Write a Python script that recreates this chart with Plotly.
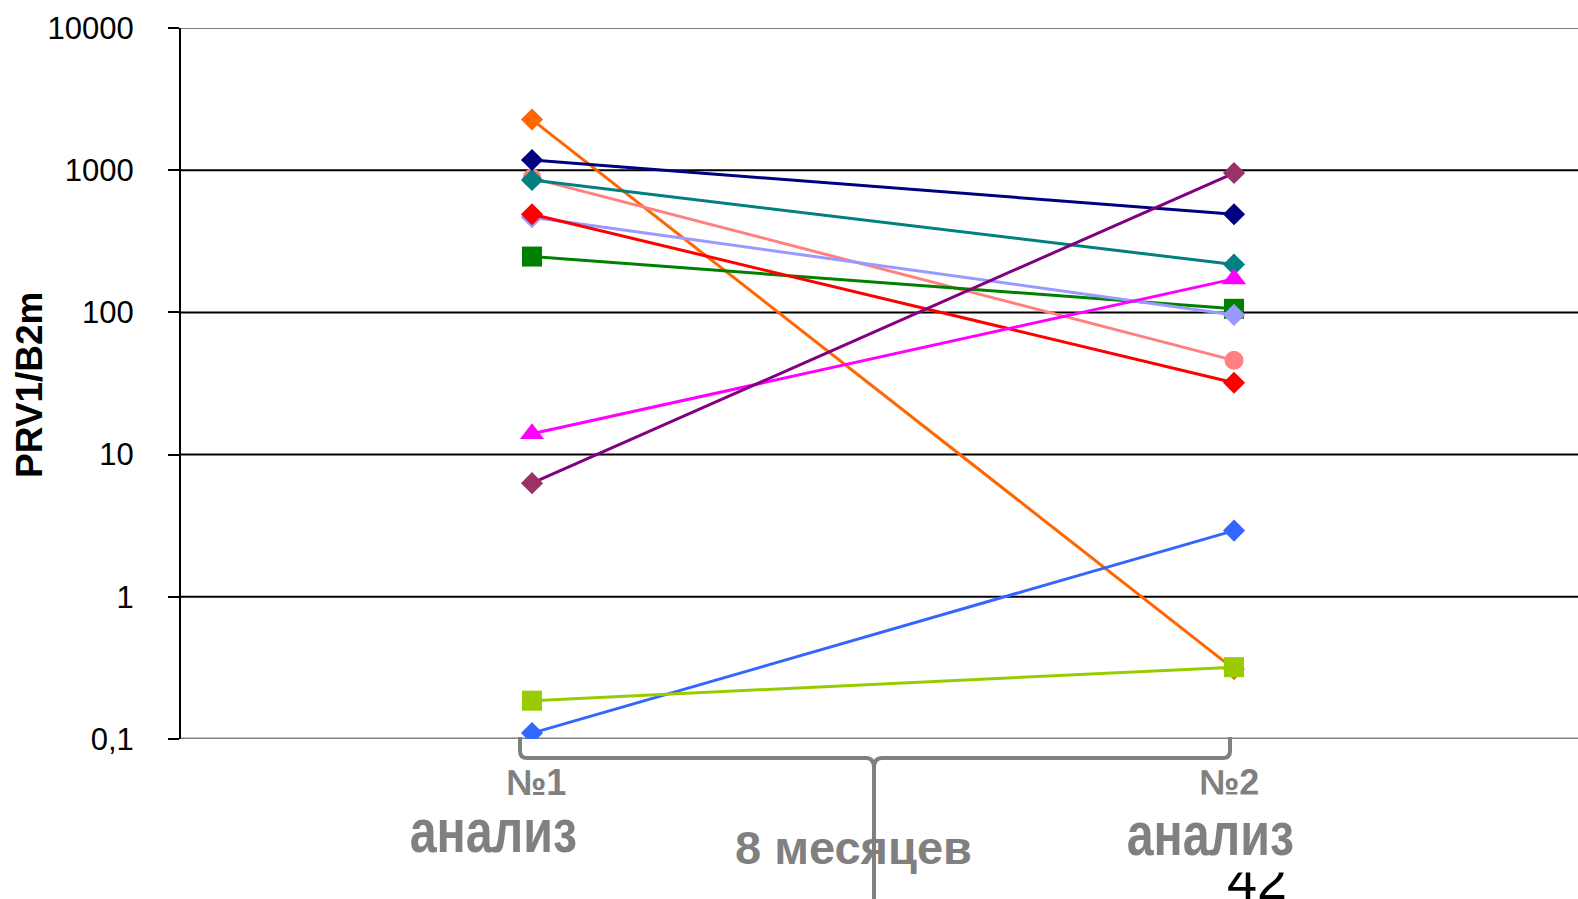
import plotly.graph_objects as go

# PRV1/B2m ratio at two analyses taken 8 months apart
analyses = [0, 1]
series_names = ["orange", "salmon", "green", "lavender", "red", "teal",
                "navy", "magenta", "purple", "blue", "lime"]
first_analysis = [2270, 880, 247, 467, 490, 853, 1180, 14, 6.3, 0.11, 0.186]
second_analysis = [0.31, 46, 106, 96, 32, 217, 490, 172, 955, 2.92, 0.32]
line_colors = ["#FF6600", "#FF8080", "#008000", "#9999FF", "#FF0000", "#008080",
               "#000080", "#FF00FF", "#800080", "#3366FF", "#99CC00"]
marker_colors = ["#FF6600", "#FF8080", "#008000", "#9999FF", "#FF0000", "#008080",
                 "#000080", "#FF00FF", "#993366", "#3366FF", "#99CC00"]
marker_symbols = ["diamond", "circle", "square", "diamond", "diamond", "diamond",
                  "diamond", "triangle-up", "diamond", "diamond", "square"]

tick_values = [0.1, 1, 10, 100, 1000, 10000]
tick_labels = ["0,1", "1", "10", "100", "1000", "10000"]
grid_values = [1, 10, 100, 1000]

W, H = 1578, 899
L, R, T, B = 181, 0, 28, 160
PW, PH = W - L - R, H - T - B


def px(x):
    return (x - L) / PW


def py(y):
    return (H - B - y) / PH


symbol_sizes = {"diamond": 17, "circle": 19, "square": 20, "triangle-up": 21}

fig = go.Figure()
for i, name in enumerate(series_names):
    fig.add_trace(go.Scatter(
        x=analyses,
        y=[first_analysis[i], second_analysis[i]],
        mode="lines+markers",
        name=name,
        line=dict(color=line_colors[i], width=3),
        marker=dict(symbol=marker_symbols[i], color=marker_colors[i],
                    size=symbol_sizes[marker_symbols[i]], line=dict(width=0)),
        showlegend=False,
    ))

shapes = []
# horizontal grid lines
for g in grid_values:
    shapes.append(dict(type="line", xref="paper", yref="y", x0=0, x1=1, y0=g, y1=g,
                       line=dict(color="black", width=2), layer="below"))
# plot frame top and bottom
for g, wdt in [(10000, 2), (0.1, 3)]:
    shapes.append(dict(type="line", xref="paper", yref="y", x0=0, x1=1, y0=g, y1=g,
                       line=dict(color="#808080", width=wdt), layer="below"))

# curly brace spanning the 8 months between the analyses
bx0, bx1, bxc = 520, 1230, 874
by_top_l, by_top_r, by_h, by_end = 737, 737, 758, 899
pts = [
    ("M", [(bx0, by_top_l)]),
    ("L", [(bx0, by_h - 7)]),
    ("Q", [(bx0, by_h), (bx0 + 7, by_h)]),
    ("L", [(bxc - 8, by_h)]),
    ("Q", [(bxc, by_h), (bxc, by_h + 10)]),
    ("L", [(bxc, by_end)]),
    ("M", [(bxc, by_h + 10)]),
    ("Q", [(bxc, by_h), (bxc + 8, by_h)]),
    ("L", [(bx1 - 7, by_h)]),
    ("Q", [(bx1, by_h), (bx1, by_h - 7)]),
    ("L", [(bx1, by_top_r)]),
]
path = ""
for cmd, cs in pts:
    path += cmd + " ".join(f"{px(a):.5f},{py(b):.5f}" for a, b in cs) + " "
shapes.append(dict(type="path", xref="paper", yref="paper", path=path.strip(),
                   line=dict(color="#808080", width=4), layer="above"))

sans = "Liberation Sans, Arial, sans-serif"
gray = "#808080"

annotations = [
    dict(text="42", x=px(1257), y=py(880), font=dict(family=sans, size=54, color="black")),
    dict(text="<b>№1</b>", x=px(536), y=py(782), font=dict(family=sans, size=36, color=gray)),
    dict(text="<b>№2</b>", x=px(1229), y=py(782), font=dict(family=sans, size=36, color=gray)),
    dict(text="<b>анализ</b>", x=px(493), y=py(831), font=dict(family=sans, size=62, color=gray)),
    dict(text="<b>анализ</b>", x=px(1210), y=py(794), yanchor="top", height=75,
         valign="middle", font=dict(family=sans, size=62, color=gray), bgcolor="white"),
    dict(text="<b>8 месяцев</b>", x=px(853), y=py(847), font=dict(family=sans, size=47, color=gray)),
    dict(text="<b>PRV1/B2m</b>", x=px(29), y=py(385), textangle=-90,
         font=dict(family=sans, size=37, color="black")),
]
for a in annotations:
    a.setdefault("yanchor", "middle")
    a.update(xref="paper", yref="paper", showarrow=False, xanchor="center")

fig.update_layout(
    width=W, height=H,
    margin=dict(l=L, r=R, t=T, b=B, pad=0),
    paper_bgcolor="white", plot_bgcolor="white",
    xaxis=dict(range=[-0.5, 1.49], showgrid=False, zeroline=False, showticklabels=False,
               ticks="", showline=False, fixedrange=True),
    yaxis=dict(type="log", range=[-1, 4], tickvals=tick_values, ticktext=tick_labels,
               showgrid=False, zeroline=False, showline=True, linecolor="black", linewidth=2,
               ticks="outside", ticklen=11, tickwidth=1.5, tickcolor="black",
               ticklabelstandoff=28,
               tickfont=dict(family=sans, size=31, color="black")),
    shapes=shapes,
    annotations=annotations,
)

# narrow the bold "анализ" captions horizontally (condensed lettering)
squeeze_js = """
var squeeze = {'анализ': 0.78};
document.querySelectorAll('.annotation-text-g text').forEach(function (t) {
    var k = squeeze[t.textContent];
    if (!k) { return; }
    var bb = t.getBBox();
    var cx = bb.x + bb.width / 2;
    t.setAttribute('transform',
        'translate(' + cx + ',0) scale(' + k + ',1) translate(' + (-cx) + ',0)');
});
"""

fig.write_html("out.html", post_script=squeeze_js)
